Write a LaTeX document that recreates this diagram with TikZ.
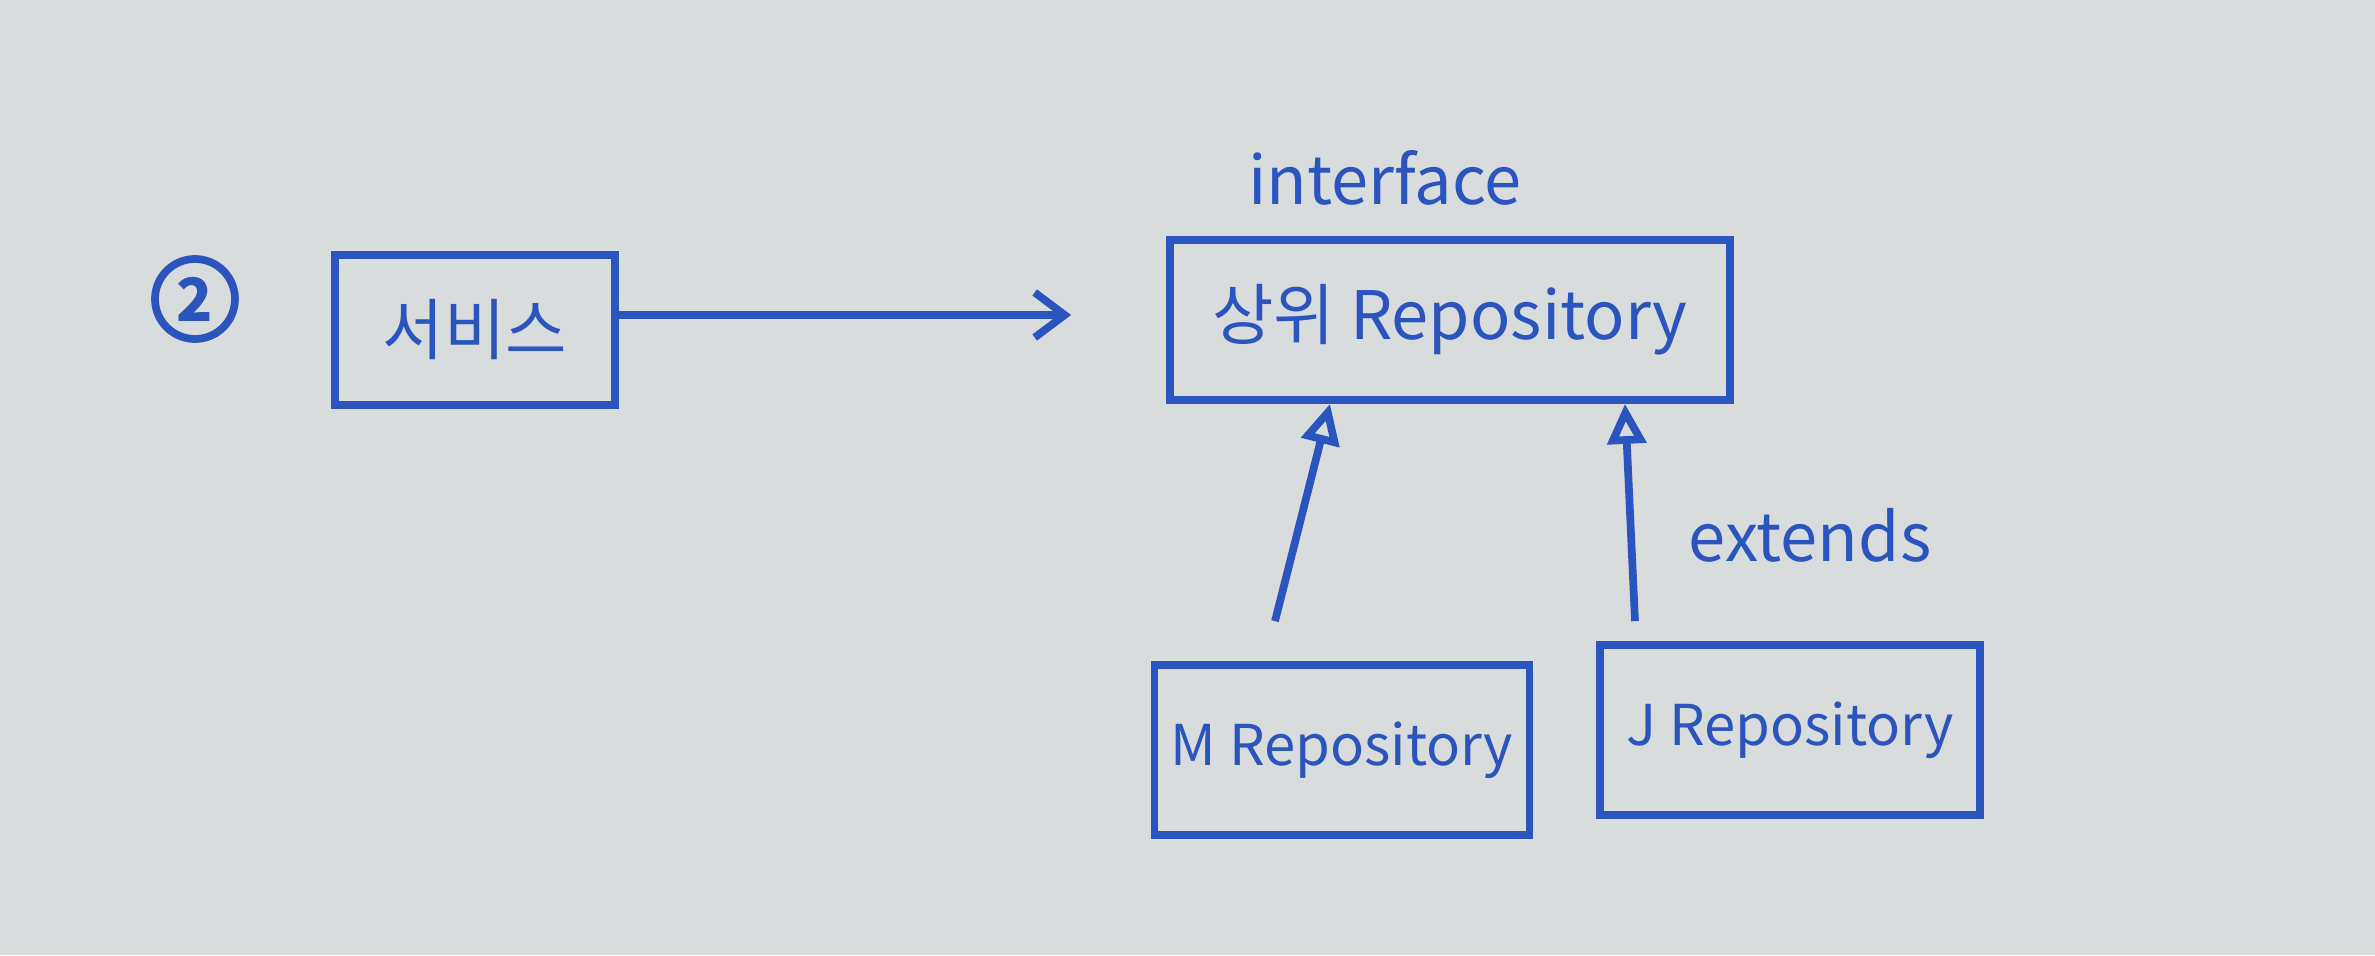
\documentclass[tikz,border=0pt]{standalone}
\usepackage{fontspec}
\newfontfamily\kr{Noto Sans CJK KR}
\usetikzlibrary{arrows.meta}
\definecolor{pen}{RGB}{42,84,190}
\definecolor{paper}{RGB}{216,220,221}
\tikzset{
  box/.style={draw=pen, line width=2.2pt, text=pen, font=\kr\fontsize{19}{22}\selectfont, inner sep=0pt},
  small/.style={font=\kr\fontsize{16}{19}\selectfont},
  lbl/.style={text=pen, font=\kr\fontsize{19}{22}\selectfont},
  assoc/.style={draw=pen, line width=2.2pt, -{Straight Barb[length=0.3cm, width=0.45cm, line width=2.2pt]}},
  inh/.style={draw=pen, line width=2.2pt, -{Triangle[open, length=0.4cm, width=0.38cm, line width=2.2pt]}}
}
\begin{document}
\begin{tikzpicture}
\fill[paper] (0,0) rectangle (23.75,9.55);
\useasboundingbox (0,0) rectangle (23.75,9.55);
\node[circle, draw=pen, line width=2.2pt, text=pen, minimum size=0.8cm, inner sep=0pt, font=\kr\bfseries\fontsize{17}{19}\selectfont] (c2) at (1.95,6.56) {2};
\node[box, minimum width=2.8cm, minimum height=1.5cm] (svc) at (4.75,6.25) {서비스};
\node[box, minimum width=5.6cm, minimum height=1.6cm] (top) at (14.50,6.35) {상위 Repository};
\node[lbl] (iface) at (13.85,7.77) {interface};
\node[box, small, minimum width=3.75cm, minimum height=1.7cm] (mrepo) at (13.42,2.05) {M Repository};
\node[box, small, minimum width=3.8cm, minimum height=1.7cm] (jrepo) at (17.90,2.25) {J Repository};
\node[lbl] (ext) at (18.10,4.20) {extends};
\draw[assoc] ([yshift=0.15cm]svc.east) -- ([yshift=0.05cm,xshift=-0.95cm]top.west);
\draw[inh] ([xshift=-0.67cm,yshift=0.4cm]mrepo.north) -- ([xshift=-1.2cm]top.south);
\draw[inh] ([xshift=-1.55cm,yshift=0.2cm]jrepo.north) -- ([xshift=1.75cm]top.south);
\end{tikzpicture}
\end{document}
